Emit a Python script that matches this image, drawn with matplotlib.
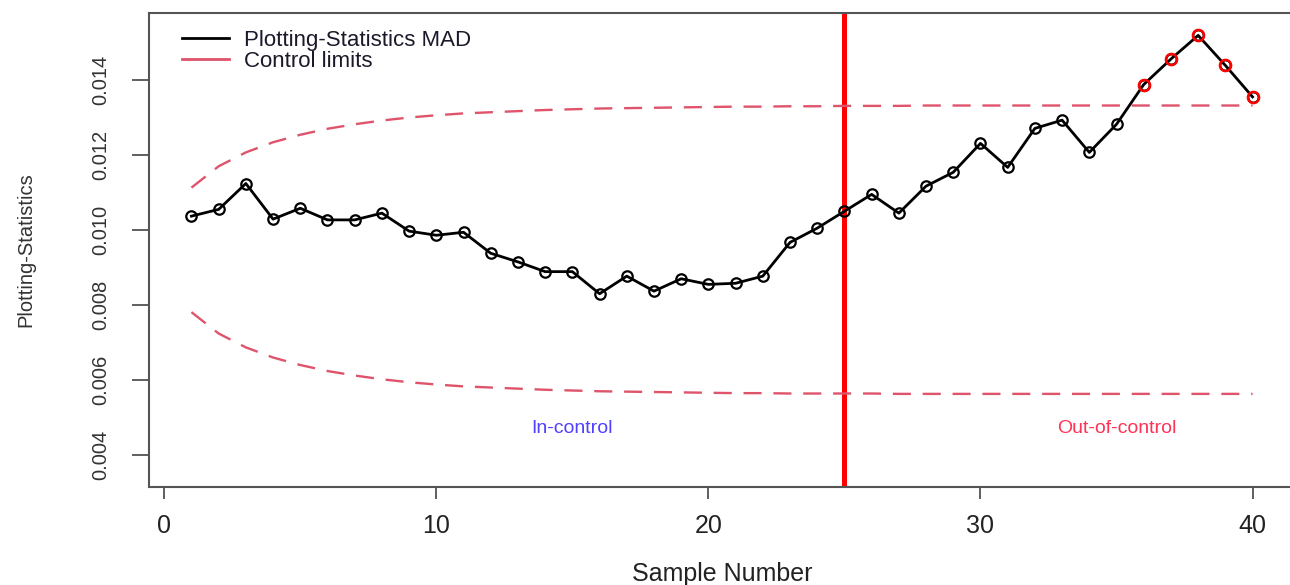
import numpy as np
import matplotlib
matplotlib.use("Agg")
import matplotlib.pyplot as plt
from matplotlib.lines import Line2D

plt.rcParams['font.family'] = ['Liberation Sans', 'DejaVu Sans']
plt.rcParams['lines.scale_dashes'] = False

# sample numbers and plotting statistic
samples = np.arange(1, 41)
mad_stat = [0.01037, 0.01055, 0.01124, 0.01029, 0.01058, 0.01027, 0.01027, 0.01045,
            0.00997, 0.00986, 0.00994, 0.00938, 0.00915, 0.00889, 0.00889, 0.00830,
            0.00877, 0.00837, 0.00870, 0.00855, 0.00858, 0.00877, 0.00967, 0.01005,
            0.01050, 0.01095, 0.01045, 0.01117, 0.01154, 0.01231, 0.01167, 0.01271,
            0.01293, 0.01207, 0.01282, 0.01388, 0.01456, 0.01519, 0.01439, 0.01355]

# control limits
ucl = [0.01113, 0.01170, 0.01207, 0.01234, 0.01254, 0.01270, 0.01282, 0.01292,
       0.01300, 0.01306, 0.01311, 0.01314, 0.01317, 0.01320, 0.01322, 0.01324,
       0.01325, 0.01326, 0.01327, 0.01328, 0.01329, 0.01329, 0.01330, 0.01330,
       0.01331, 0.01331, 0.01331, 0.01332, 0.01332, 0.01332, 0.01332, 0.01332,
       0.01332, 0.01332, 0.01332, 0.01332, 0.01332, 0.01332, 0.01332, 0.01332]
lcl = [0.00781, 0.00724, 0.00687, 0.00660, 0.00640, 0.00624, 0.00612, 0.00602,
       0.00594, 0.00588, 0.00583, 0.00580, 0.00577, 0.00574, 0.00572, 0.00570,
       0.00569, 0.00568, 0.00567, 0.00566, 0.00565, 0.00565, 0.00564, 0.00564,
       0.00564, 0.00564, 0.00563, 0.00563, 0.00563, 0.00563, 0.00563, 0.00563,
       0.00563, 0.00563, 0.00563, 0.00563, 0.00563, 0.00563, 0.00563, 0.00563]

change_point = 25
out_idx = [35, 36, 37, 38, 39]   # samples 36..40 beyond UCL
xticks = [0, 10, 20, 30, 40]
yticks = [0.004, 0.006, 0.008, 0.010, 0.012, 0.014]

W, H = 1290, 585
fig = plt.figure(figsize=(W / 100, H / 100), dpi=100)
ax = fig.add_axes([149 / W, 1 - 487 / H, (1295 - 149) / W, (487 - 13) / H])

lim_col = '#DF536B'
ax.axvline(change_point, color='#FF0000', lw=3.6, zorder=1)
ax.plot(samples, ucl, color=lim_col, lw=1.7, dashes=(13, 8.5), zorder=2)
ax.plot(samples, lcl, color=lim_col, lw=1.7, dashes=(13, 8.5), zorder=2)
ax.plot(samples, mad_stat, color='black', lw=2.0, marker='o', ms=7.5, mfc='none',
        mec='black', mew=1.6, zorder=3)
ax.plot(samples[out_idx], np.array(mad_stat)[out_idx], ls='none', marker='o', ms=8,
        mfc='none', mec='#FF0000', mew=1.8, zorder=4)

ax.text(15, 0.00472, 'In-control', color='#5040FF', fontsize=14, ha='center', va='center')
ax.text(35, 0.00472, 'Out-of-control', color='#FF3355', fontsize=14, ha='center', va='center')

ax.set_xlim(-0.56, 41.56)
ax.set_ylim(0.003147, 0.015787)
ax.set_xticks(xticks)
ax.set_yticks(yticks)
ax.set_yticklabels(['%.3f' % v for v in yticks], rotation=90, va='center')

for s in ax.spines.values():
    s.set_color('#555555')
    s.set_linewidth(1.5)
ax.tick_params(axis='x', length=8.5, width=1.2, color='#444444', pad=11, labelsize=18, labelcolor='#222222')
ax.tick_params(axis='y', length=12, width=1.2, color='#444444', pad=16, labelsize=14.5, labelcolor='#333333')

ax.set_xlabel('Sample Number', fontsize=18, color='#222222', labelpad=17)
ax.set_ylabel('Plotting-Statistics', fontsize=14.5, color='#333333', labelpad=40)

handles = [Line2D([], [], color='black', lw=2.0),
           Line2D([], [], color=lim_col, lw=2.0)]
ax.legend(handles, ['Plotting-Statistics MAD', 'Control limits'], loc='upper left',
          bbox_to_anchor=(0.0195, 0.988), frameon=False, fontsize=16, handlelength=2.1,
          handletextpad=0.65, labelspacing=0.0, borderpad=0, labelcolor='#1a1a2a')

fig.savefig('out.png', dpi=100)
